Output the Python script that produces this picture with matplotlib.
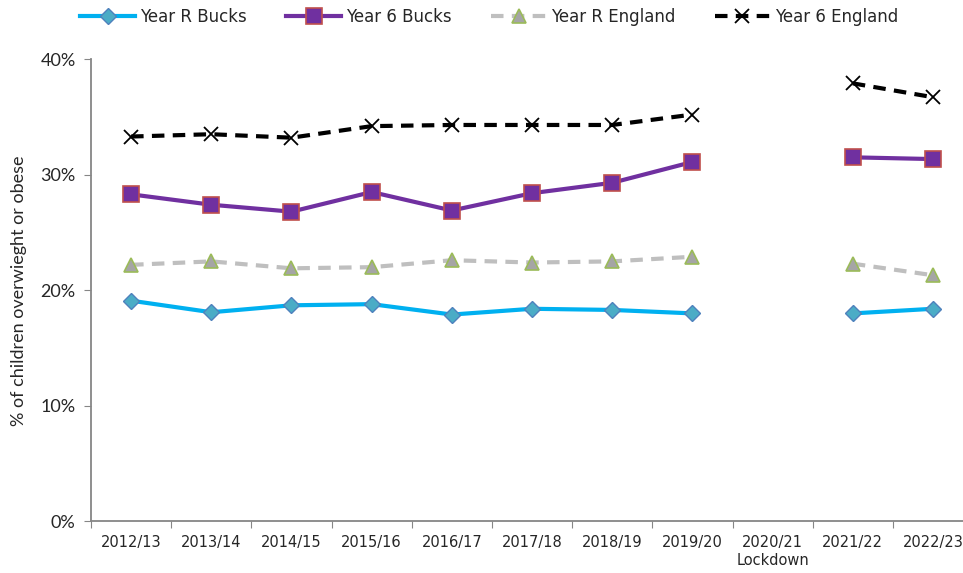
import numpy as np
import matplotlib
matplotlib.use("Agg")
import matplotlib.pyplot as plt
from matplotlib.ticker import FixedLocator, PercentFormatter

categories = ["2012/13", "2013/14", "2014/15", "2015/16", "2016/17", "2017/18",
              "2018/19", "2019/20", "2020/21\nLockdown", "2021/22", "2022/23"]
nan = np.nan
year_r_bucks = [19.1, 18.1, 18.7, 18.8, 17.9, 18.4, 18.3, 18.0, nan, 18.0, 18.4]
year_6_bucks = [28.3, 27.4, 26.8, 28.5, 26.9, 28.4, 29.3, 31.1, nan, 31.5, 31.35]
year_r_england = [22.2, 22.5, 21.9, 22.0, 22.6, 22.4, 22.5, 22.9, nan, 22.3, 21.3]
year_6_england = [33.3, 33.5, 33.2, 34.2, 34.3, 34.3, 34.3, 35.2, nan, 37.9, 36.7]

narrow = ['Liberation Sans Narrow', 'DejaVu Sans']
plt.rcParams['font.family'] = ['Lato', 'DejaVu Sans']

fig = plt.figure(figsize=(9.63, 5.73), dpi=100)
ax = fig.add_axes([0.0945, 0.0899, 0.916, 0.807])
x = np.arange(len(categories))

ax.plot(x, year_r_bucks, color='#00B0F0', lw=3, marker='D', ms=8,
        mfc='#4BACC6', mec='#4F81BD', mew=1, label='Year R Bucks', zorder=3)
ax.plot(x, year_6_bucks, color='#7030A0', lw=3, marker='s', ms=11,
        mfc='#7030A0', mec='#C0504D', mew=1.2, label='Year 6 Bucks', zorder=3)
ax.plot(x, year_r_england, color='#BFBFBF', lw=3, ls=(0, (3, 2)), marker='^', ms=10,
        mfc='#A5A5A5', mec='#9BBB59', mew=1.2, label='Year R England', zorder=3)
ax.plot(x, year_6_england, color='black', lw=3, ls=(0, (3, 2)), marker='x', ms=10,
        mew=1.3, label='Year 6 England', zorder=3)

ax.set_xlim(-0.5, len(categories) - 0.5)
ax.set_ylim(0, 40)
ax.yaxis.set_major_locator(FixedLocator([0, 10, 20, 30, 40]))
ax.yaxis.set_major_formatter(PercentFormatter(decimals=0))
ax.set_xticks(np.arange(-0.5, len(categories), 1.0))
ax.set_xticklabels([])
ax.set_xticks(x, minor=True)
ax.set_xticklabels(categories, minor=True, fontsize=10.5, family=narrow, color='#262626')
ax.tick_params(axis='x', which='minor', length=0, pad=10)
ax.tick_params(axis='x', which='major', length=5, color='#868686', direction='out')
ax.tick_params(axis='y', length=5, color='#868686', labelsize=13, labelcolor='#262626', pad=6)
for s in ['top', 'right']:
    ax.spines[s].set_visible(False)
for s in ['left', 'bottom']:
    ax.spines[s].set_color('#868686')
    ax.spines[s].set_linewidth(1.3)

ax.set_ylabel('% of children overwieght or obese', fontsize=13, color='#262626', labelpad=10)

leg = fig.legend(loc='upper left', bbox_to_anchor=(0.068, 1.012), ncol=4, frameon=False,
                 prop={'family': narrow, 'size': 12}, handlelength=3.3, columnspacing=2.35,
                 handletextpad=0.3)
for t in leg.get_texts():
    t.set_color('#262626')

fig.savefig('out.png', dpi=100)
